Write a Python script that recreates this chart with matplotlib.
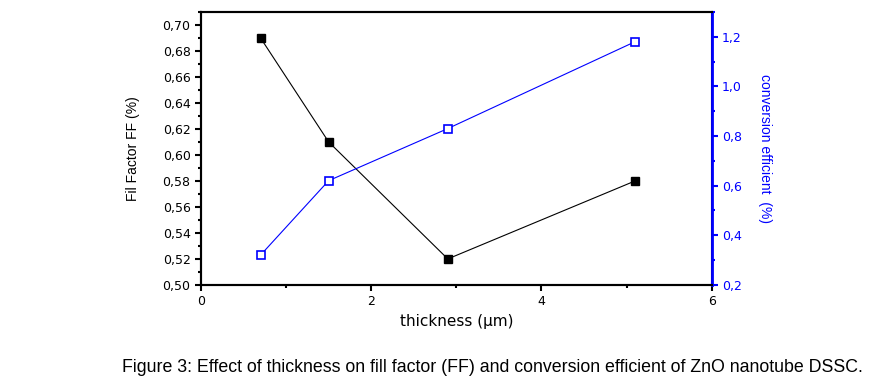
import numpy as np
import matplotlib.pyplot as plt
from matplotlib.ticker import MultipleLocator, FuncFormatter

plt.rcParams['font.family'] = ['DejaVu Sans']

# data
thickness = [0.7, 1.5, 2.9, 5.1]
fill_factor = [0.69, 0.61, 0.52, 0.58]
efficiency = [0.32, 0.62, 0.83, 1.18]

def comma(fmt):
    return FuncFormatter(lambda v, p: (fmt % v).replace('.', ','))

fig = plt.figure(figsize=(8.93, 3.84), dpi=100)
ax = fig.add_axes([0.225, 0.258, 0.572, 0.711])
ax2 = ax.twinx()

ax.plot(thickness, fill_factor, color='black', lw=0.8, marker='s', ms=6,
        mfc='black', mec='black')
ax2.plot(thickness, efficiency, color='blue', lw=0.8, marker='s', ms=5.5,
         mfc='white', mec='blue', mew=1.2)

ax.set_xlim(0, 6)
ax.set_ylim(0.50, 0.71)
ax2.set_ylim(0.2, 1.3)

ax.xaxis.set_major_locator(MultipleLocator(2))
ax.xaxis.set_minor_locator(MultipleLocator(1))
ax.yaxis.set_major_locator(MultipleLocator(0.02))
ax.yaxis.set_minor_locator(MultipleLocator(0.01))
ax2.yaxis.set_major_locator(MultipleLocator(0.2))
ax2.yaxis.set_minor_locator(MultipleLocator(0.1))
ax.yaxis.set_major_formatter(comma('%.2f'))
ax2.yaxis.set_major_formatter(comma('%.1f'))

for a in (ax, ax2):
    for s in a.spines.values():
        s.set_linewidth(1.5)
ax2.spines['right'].set_color('blue')
ax2.spines['right'].set_linewidth(2)

ax.tick_params(axis='both', which='major', direction='out', length=4.5, width=1.5,
               labelsize=9, pad=3, top=False)
ax.tick_params(axis='both', which='minor', direction='out', length=2.5, width=1.5)
ax2.tick_params(axis='y', which='major', direction='out', length=4.5, width=1.5,
                labelsize=9, pad=3, colors='blue')
ax2.tick_params(axis='y', which='minor', direction='out', length=2.5, width=1.5,
                colors='blue')

ax.set_xlabel('thickness (µm)', fontsize=11)
ax.set_ylabel('Fil Factor FF (%)', fontsize=10, family='Liberation Sans')
ax.yaxis.set_label_coords(-0.12, 0.5)
ax2.set_ylabel('conversion efficient  (%)', fontsize=10, color='blue',
               rotation=270, family='Liberation Sans', va='center')
ax2.yaxis.set_label_coords(1.104, 0.5)

fig.text(0.552, 0.044, 'Figure 3: Effect of thickness on fill factor (FF) and conversion efficient of ZnO nanotube DSSC.',
         ha='center', va='center', fontsize=12.75, family='Liberation Sans')

fig.savefig('out.png', dpi=100)
